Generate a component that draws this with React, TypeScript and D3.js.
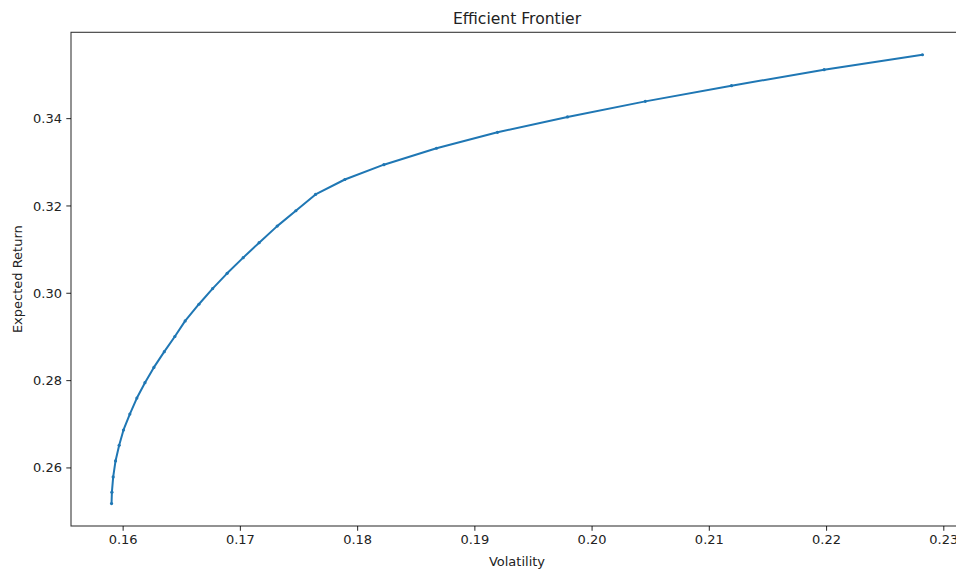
import React from "react";
import * as d3 from "d3";

const volatility: number[] = [
  0.15901, 0.15904, 0.15915, 0.15935, 0.15966, 0.16003, 0.16057, 0.16117,
  0.16186, 0.16262, 0.16351, 0.16441, 0.16529, 0.16646, 0.16763, 0.16887,
  0.17024, 0.1716, 0.17314, 0.17473, 0.17641, 0.17891, 0.18224, 0.18673,
  0.19193, 0.1979, 0.20454, 0.21189, 0.21979, 0.22818,
];
const expectedReturn: number[] = [
  0.25184, 0.25445, 0.25794, 0.2616, 0.26519, 0.26869, 0.27234, 0.276,
  0.27952, 0.28302, 0.28663, 0.2901, 0.29367, 0.29749, 0.30107, 0.30457,
  0.30816, 0.31159, 0.31538, 0.3189, 0.32263, 0.32606, 0.32945, 0.33321,
  0.33687, 0.34039, 0.34395, 0.34754, 0.3512, 0.35463,
];
const xTicks: number[] = [0.16, 0.17, 0.18, 0.19, 0.2, 0.21, 0.22, 0.23];
const yTicks: number[] = [0.26, 0.28, 0.3, 0.32, 0.34];
const titleText = "Efficient Frontier";
const xLabel = "Volatility";
const yLabel = "Expected Return";

const W = 956;
const H = 570;
const M = { left: 71, top: 32.3, right: 963, bottom: 526 };
const FONT = "DejaVu Sans, sans-serif";

export default function App() {
  const pts = volatility.map((v, i) => [v, expectedReturn[i]] as [number, number]);
  const [x0, x1] = d3.extent(volatility) as [number, number];
  const [y0, y1] = d3.extent(expectedReturn) as [number, number];
  const px = (x1 - x0) * 0.05;
  const py = (y1 - y0) * 0.05;
  const x = d3.scaleLinear().domain([x0 - px, x1 + px]).range([M.left, M.right]);
  const y = d3.scaleLinear().domain([y0 - py, y1 + py]).range([M.bottom, M.top]);
  const line = d3
    .line<[number, number]>()
    .x((d) => x(d[0]))
    .y((d) => y(d[1]));
  const fmt = d3.format(".2f");
  const axisColor = "#000";
  const textColor = "#222";

  return (
    <svg
      width={W}
      height={H}
      style={{ position: "absolute", left: 0, top: 0, background: "#fff" }}
    >
      <rect x={0} y={0} width={W} height={H} fill="#fff" />
      <text
        x={(M.left + M.right) / 2}
        y={24}
        textAnchor="middle"
        fontFamily={FONT}
        fontSize={15.6}
        fill={textColor}
      >
        {titleText}
      </text>
      <path d={line(pts) || ""} fill="none" stroke="#1f77b4" strokeWidth={2} strokeLinejoin="round" />
      {pts.map((d, i) => (
        <circle key={i} cx={x(d[0])} cy={y(d[1])} r={1.6} fill="#1f77b4" />
      ))}
      <rect
        x={M.left}
        y={M.top}
        width={M.right - M.left}
        height={M.bottom - M.top}
        fill="none"
        stroke={axisColor}
        strokeWidth={1.07}
        opacity={0.8}
      />
      {xTicks.map((t) => (
        <g key={"x" + t} transform={`translate(${x(t)},${M.bottom})`}>
          <line y1={0} y2={4.7} stroke={axisColor} strokeWidth={1.07} opacity={0.8} />
          <text
            y={18}
            textAnchor="middle"
            fontFamily={FONT}
            fontSize={13}
            fill={textColor}
          >
            {fmt(t)}
          </text>
        </g>
      ))}
      {yTicks.map((t) => (
        <g key={"y" + t} transform={`translate(${M.left},${y(t)})`}>
          <line x1={0} x2={-4.7} stroke={axisColor} strokeWidth={1.07} opacity={0.8} />
          <text
            x={-9}
            dy="0.35em"
            textAnchor="end"
            fontFamily={FONT}
            fontSize={13}
            fill={textColor}
          >
            {fmt(t)}
          </text>
        </g>
      ))}
      <text
        x={(M.left + M.right) / 2}
        y={566}
        textAnchor="middle"
        fontFamily={FONT}
        fontSize={13}
        fill={textColor}
      >
        {xLabel}
      </text>
      <text
        transform={`translate(22,${(M.top + M.bottom) / 2}) rotate(-90)`}
        textAnchor="middle"
        fontFamily={FONT}
        fontSize={13}
        fill={textColor}
      >
        {yLabel}
      </text>
    </svg>
  );
}
